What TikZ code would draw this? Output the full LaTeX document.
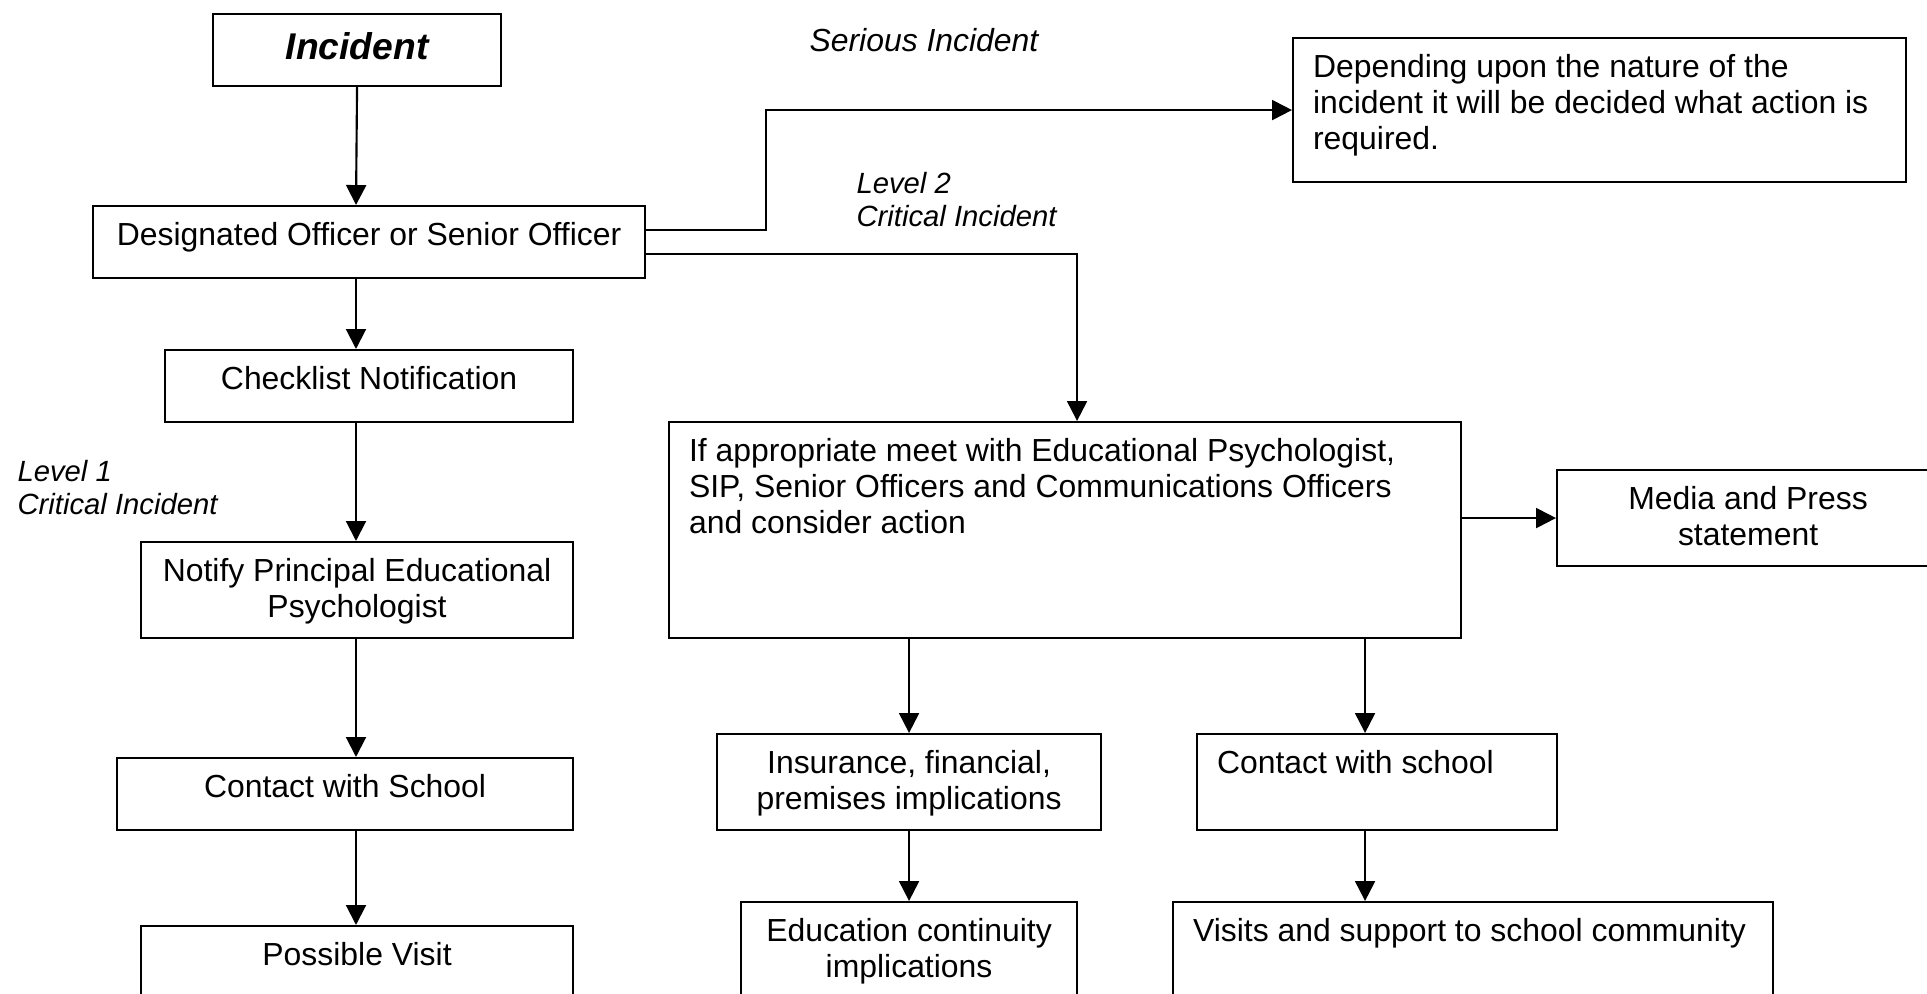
\documentclass[tikz,border=0pt]{standalone}
\usepackage{fontspec}
\setmainfont{Liberation Sans}
\usetikzlibrary{arrows.meta,calc}
\newdimen\pxu \pxu=0.376pt
\def\ctext#1#2#3{\parbox[c][#2\pxu][t]{#1\pxu}{\centering\rule{0pt}{39\pxu}#3}}
\def\ltext#1#2#3{\parbox[c][#2\pxu][t]{#1\pxu}{\raggedright\leftskip=20\pxu\rule{0pt}{39\pxu}#3}}
\tikzset{
	chartbox/.style={draw, line width=0.8pt, inner sep=0pt, anchor=north west},
	flow/.style={line width=0.8pt, -{Triangle[length=7.5pt,width=7.5pt]}},
	tag/.style={inner sep=0pt, anchor=north west, align=left, font=\fontsize{11}{12.6}\selectfont\itshape}
}

\begin{document}
\begin{tikzpicture}[x=0.376pt, y=-0.376pt, font=\fontsize{12}{13.7}\selectfont]
			%%%%% START %%%%%
			
			\useasboundingbox (0,0) rectangle (1927,994);
			\clip (0,0) rectangle (1927,994);
			\coordinate (axis) at (356,0);
			
			\node[chartbox] (incident) at (212,13) {\parbox[c][72\pxu][t]{288\pxu}{\centering\fontsize{14}{16}\selectfont\bfseries\itshape\rule{0pt}{45\pxu}Incident}};
			\node[chartbox] (desig) at (92,205) {\ctext{552}{72}{Designated Officer or Senior Officer}};
			\node[chartbox] (check) at (164,349) {\ctext{408}{72}{Checklist Notification}};
			\node[chartbox] (notify) at (140,541) {\ctext{432}{96}{Notify Principal Educational\\Psychologist}};
			\node[chartbox] (school) at (116,757) {\ctext{456}{72}{Contact with School}};
			\node[chartbox] (visit) at (140,925) {\ctext{432}{96}{Possible Visit}};
			
			\node[chartbox] (depend) at (1292,37) {\ltext{613}{144}{Depending upon the nature of the\\incident it will be decided what action is\\required.}};
			\node[chartbox] (meet) at (668,421) {\ltext{792}{216}{If appropriate meet with Educational Psychologist,\\SIP, Senior Officers and Communications Officers\\and consider action}};
			\node[chartbox] (media) at (1556,469) {\ctext{382}{96}{Media and Press\\statement}};
			\node[chartbox] (insure) at (716,733) {\ctext{384}{96}{Insurance, financial,\\premises implications}};
			\node[chartbox] (contact) at (1196,733) {\ltext{360}{96}{Contact with school}};
			\node[chartbox] (educ) at (740,901) {\ctext{336}{96}{Education continuity\\implications}};
			\node[chartbox] (support) at (1172,901) {\ltext{600}{96}{Visits and support to school community}};
			
			\node[inner sep=0pt, anchor=base west, font=\fontsize{12}{13.7}\selectfont\itshape] (serious) at (809,52) {Serious Incident};
			\node[tag] (level2) at (856,166) {\rule{0pt}{10pt}Level 2\\Critical Incident};
			\node[tag] (level1) at (17,454) {\rule{0pt}{10pt}Level 1\\Critical Incident};
			
			\draw[flow] (incident.south) -- (axis |- desig.north);
			\draw[flow] (axis |- desig.south) -- (axis |- check.north);
			\draw[flow] (axis |- check.south) -- (axis |- notify.north);
			\draw[flow] (axis |- notify.south) -- (axis |- school.north);
			\draw[flow] (axis |- school.south) -- (axis |- visit.north);
			
			\draw[flow] ($(desig.east)+(0,-12)$) -- ++(120,0) |- (depend.west);
			\draw[flow] ($(desig.east)+(0,12)$) -| ($(meet.north)+(12,0)$);
			\draw[flow] (meet.east |- media.west) -- (media.west);
			
			\coordinate (split) at ($(contact.north)+(-12,0)$);
			\draw[flow] (insure.north |- meet.south) -- (insure.north);
			\draw[flow] (split |- meet.south) -- (split);
			\draw[flow] (insure.south) -- (educ.north);
			\draw[flow] (split |- contact.south) -- (split |- support.north);
			
			%%%%% END %%%%%
\end{tikzpicture}
\end{document}
